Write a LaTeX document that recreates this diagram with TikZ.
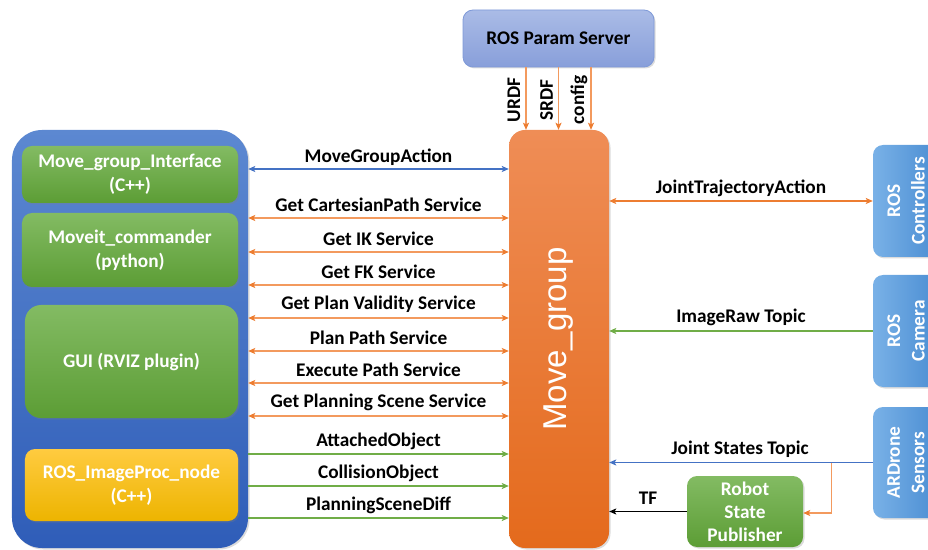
\documentclass[tikz,border=0pt]{standalone}
\usepackage{fontspec}
\setmainfont{Carlito}
\newfontfamily\arialfont{Liberation Sans}
\usetikzlibrary{arrows.meta,shadows,calc}

\definecolor{lineorange}{HTML}{F39A5E}
\definecolor{tiporange}{HTML}{ED7D31}
\definecolor{linegreen}{HTML}{70AD47}
\definecolor{lineblue}{HTML}{4472C4}
\definecolor{grntop}{HTML}{83BB63}
\definecolor{grnbot}{HTML}{5C9D35}
\definecolor{ylwtop}{HTML}{FFCB40}
\definecolor{ylwbot}{HTML}{EDB400}
\definecolor{cnttop}{HTML}{5C88D1}
\definecolor{cntbot}{HTML}{2F5DB8}
\definecolor{mgtop}{HTML}{EF8D56}
\definecolor{mgbot}{HTML}{E46A1C}
\definecolor{pstop}{HTML}{AABBE6}
\definecolor{psbot}{HTML}{889FDA}
\definecolor{psedge}{HTML}{7E99D8}
\definecolor{rostop}{HTML}{4A8DD2}
\definecolor{rosbot}{HTML}{79B1E7}

\newcommand\lblfont{\fontsize{19.3bp}{22bp}\selectfont\bfseries}
\newcommand\boxfont{\fontsize{19.3bp}{24.5bp}\selectfont\bfseries}

\begin{document}
\begin{tikzpicture}[x=1bp,y=-1bp,
  softshadow/.style={drop shadow={opacity=0.28,shadow xshift=1.5bp,shadow yshift=-1.5bp}},
  box/.style={rounded corners=10bp,inner sep=0pt,align=center,text=white,
    font=\boxfont,softshadow},
  greenbox/.style={box,top color=grntop,bottom color=grnbot},
  rosbox/.style={box,rotate=90,minimum width=112bp,minimum height=66bp,
    left color=rosbot,right color=rostop},
  lbl/.style={font=\lblfont,text=black,inner sep=0pt},
  tip/.style={-{Stealth[length=7bp,width=6bp,inset=1.5bp]}},
  otip/.style={-{Stealth[length=7bp,width=6bp,inset=1.5bp,color=tiporange]}},
  svc/.style={{Stealth[length=7bp,width=6bp,inset=1.5bp,color=tiporange]}-{Stealth[length=7bp,width=6bp,inset=1.5bp,color=tiporange]},
    draw=lineorange,line width=1.2bp},
  topic/.style={tip,draw=linegreen,line width=1.2bp},
  param/.style={otip,draw=lineorange,line width=1.2bp}]

\useasboundingbox (0,0) rectangle (928,550);

% client side container and its nodes
\node[rounded corners=30bp,minimum width=236bp,minimum height=418bp,inner sep=0pt,
  top color=cnttop,bottom color=cntbot,softshadow] (cont) at (130,339) {};
\node[greenbox,minimum width=216bp,minimum height=57bp] (mgi) at (130,174.5)
  {Move\_group\_Interface\\(C++)};
\node[greenbox,minimum width=216bp,minimum height=74bp] (mc) at (130,250)
  {Moveit\_commander\\(python)};
\node[greenbox,rounded corners=16bp,minimum width=213bp,minimum height=113bp] (gui) at (131.5,361.5)
  {GUI (RVIZ plugin)};
\node[box,top color=ylwtop,bottom color=ylwbot,minimum width=213bp,minimum height=72bp] (ipn) at (131.5,485)
  {ROS\_ImageProc\_node\\(C++)};

% parameter server and the central node
\node[box,text=black,top color=pstop,bottom color=psbot,draw=psedge,line width=0.8bp,
  minimum width=191bp,minimum height=57bp] (ps) at (558.5,38.5) {ROS Param Server};
\node[box,rounded corners=16bp,top color=mgtop,bottom color=mgbot,minimum width=100bp,
  minimum height=418bp] (mg) at (559,339) {};
\node[rotate=90,text=white,font=\arialfont\fontsize{33bp}{36bp}\selectfont,inner sep=0pt]
  at (mg.center) {Move\_group};

% robot side nodes
\node[rosbox] (ctrl) at (906,201) {ROS\\Controllers};
\node[rosbox] (cam) at (906,331) {ROS\\Camera};
\node[rosbox,minimum width=111bp] (ards) at (906,462.5) {ARDrone\\Sensors};
\node[greenbox,minimum width=116bp,minimum height=71bp,font=\fontsize{19.3bp}{23bp}\selectfont\bfseries]
  (rsp) at (745,511.5) {Robot\\State\\Publisher};

% parameters pushed to move_group
\foreach \dx/\txt in {-32.5/URDF,0/SRDF,32.5/config}{
  \draw[param] ([xshift=\dx bp]ps.south) -- ([xshift=\dx bp]ps.south |- mg.north);
  \node[lbl,rotate=90] at ([xshift=\dx bp-12bp]ps.south |- 0,100) {\txt};
}

% action between interface and move_group
\draw[{Stealth[length=7bp,width=6bp,inset=1.5bp]}-{Stealth[length=7bp,width=6bp,inset=1.5bp]},
  draw=lineblue,line width=1.2bp]
  (cont.east |- 0,169) -- node[lbl,yshift=11.5bp]{MoveGroupAction} (mg.west |- 0,169);

% services
\foreach \yy/\txt in {218/Get CartesianPath Service,252/Get IK Service,285/Get FK Service,
  318/Get Plan Validity Service,351/Plan Path Service,383/Execute Path Service,
  416/Get Planning Scene Service}{
  \draw[svc] (cont.east |- 0,\yy) -- node[lbl,yshift=13.5bp]{\txt} (mg.west |- 0,\yy);
}

% topics into move_group
\foreach \yy/\txt in {454/AttachedObject,486/CollisionObject,518/PlanningSceneDiff}{
  \draw[topic] (cont.east |- 0,\yy) -- node[lbl,yshift=13bp]{\txt} (mg.west |- 0,\yy);
}

% robot side connections
\draw[svc,draw=tiporange] (mg.east |- ctrl.center) -- node[lbl,yshift=13bp]{JointTrajectoryAction} (ctrl.north);
\draw[topic] (cam.north) -- node[lbl,yshift=14bp]{ImageRaw Topic} (mg.east |- cam.center);
\draw[tip,draw=lineblue,line width=1.2bp]
  (ards.north) -- node[lbl,yshift=13bp,xshift=-1bp]{Joint States Topic} (mg.east |- ards.center);
\path (ards.north) ++(-41,0) coordinate (tap);
\draw[param] (tap) |- ([yshift=-1.5bp]rsp.east);
\draw[tip,draw=black,line width=1.2bp]
  (rsp.west) -- node[lbl,yshift=13bp]{TF} (mg.east |- rsp.center);

\end{tikzpicture}
\end{document}
